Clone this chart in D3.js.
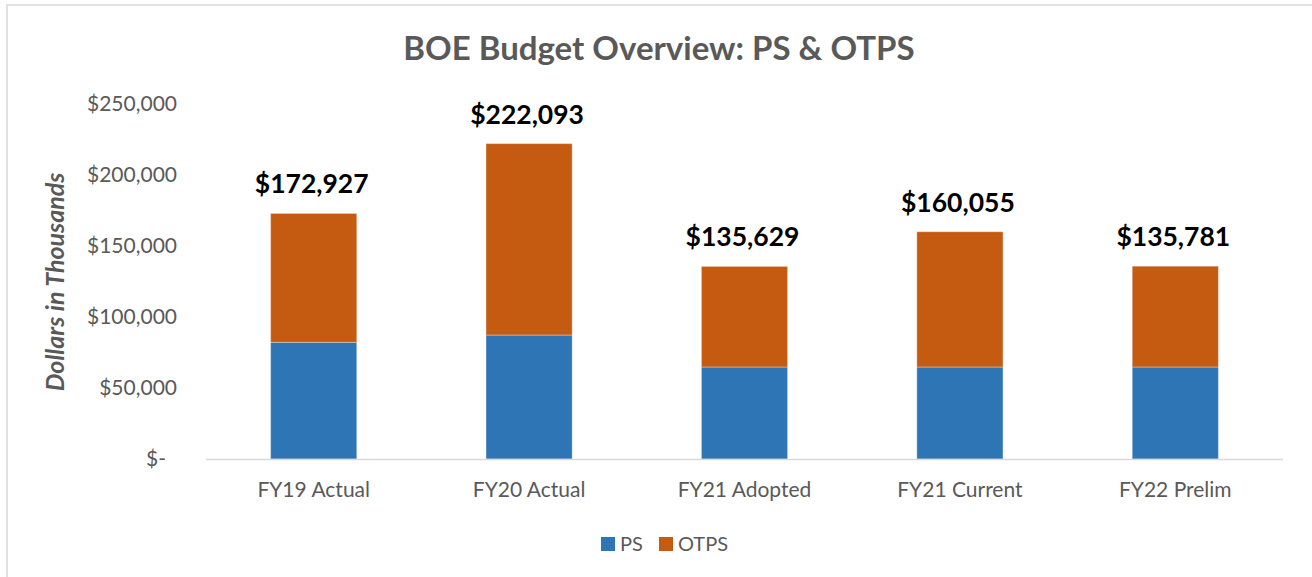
<!DOCTYPE html>
<html>
<head>
<meta charset="utf-8"/>
<title>BOE Budget Overview</title>
<script src="https://d3js.org/d3.v7.min.js"></script>
<style>
  body { margin: 0; background: #fff; }
  svg { display: block; font-family: Lato, "Open Sans", sans-serif; }
</style>
</head>
<body>
<div id="chart"></div>
<script>
  const categories = ["FY19 Actual", "FY20 Actual", "FY21 Adopted", "FY21 Current", "FY22 Prelim"];
  const totals = [172927, 222093, 135629, 160055, 135781];
  const psValues = [82200, 87300, 64800, 64800, 64800];
  const otpsValues = totals.map((t, i) => t - psValues[i]);
  const yTicks = [0, 50000, 100000, 150000, 200000, 250000];
  const seriesNames = ["PS", "OTPS"];
  const colors = ["#2E75B6", "#C55A11"];

  const width = 1312, height = 577;
  const x0 = 206, x1 = 1283, yBase = 459, yTop = 104;

  const rows = categories.map((c, i) => ({ cat: c, PS: psValues[i], OTPS: otpsValues[i], total: totals[i] }));

  const svg = d3.select("#chart").append("svg")
      .attr("width", width)
      .attr("height", height);

  // frame (runs off the right and bottom edges)
  svg.append("rect")
      .attr("x", 7).attr("y", 5)
      .attr("width", 1320).attr("height", 600)
      .attr("fill", "none")
      .attr("stroke", "#d9d9d9")
      .attr("stroke-width", 1.5);

  const x = d3.scaleBand().domain(categories).range([x0, x1]).paddingInner(0.6).paddingOuter(0.3);
  const y = d3.scaleLinear().domain([0, 250000]).range([yBase, yTop]);

  svg.append("text")
      .attr("x", 659).attr("y", 60)
      .attr("text-anchor", "middle")
      .attr("font-size", 33).attr("font-weight", "bold")
      .attr("fill", "#595959")
      .text("BOE Budget Overview: PS & OTPS");

  // y tick labels
  const fmt = d3.format("$,");
  svg.append("g").selectAll("text")
      .data(yTicks)
      .join("text")
      .attr("x", d => d === 0 ? 166 : 177)
      .attr("y", d => y(d))
      .attr("dy", "0.35em")
      .attr("text-anchor", "end")
      .attr("font-size", 21)
      .attr("fill", "#595959")
      .text(d => d === 0 ? "$-" : fmt(d));

  svg.append("text")
      .attr("transform", "translate(64,282) rotate(-90)")
      .attr("text-anchor", "middle")
      .attr("font-size", 25).attr("font-weight", "bold").attr("font-style", "italic")
      .attr("fill", "#595959")
      .text("Dollars in Thousands");

  const stack = d3.stack().keys(seriesNames)(rows);

  svg.append("g").selectAll("g")
      .data(stack)
      .join("g")
      .attr("fill", (d, i) => colors[i])
      .selectAll("rect")
      .data(d => d)
      .join("rect")
      .attr("x", d => x(d.data.cat))
      .attr("width", x.bandwidth())
      .attr("y", d => y(d[1]))
      .attr("height", d => y(d[0]) - y(d[1]))
      .attr("stroke", "#ffffff")
      .attr("stroke-opacity", 0.35)
      .attr("stroke-width", 1);

  // baseline
  svg.append("line")
      .attr("x1", x0).attr("x2", x1)
      .attr("y1", yBase + 0.5).attr("y2", yBase + 0.5)
      .attr("stroke", "#d9d9d9").attr("stroke-width", 1.5);

  // x labels
  svg.append("g").selectAll("text")
      .data(categories)
      .join("text")
      .attr("x", d => x(d) + x.bandwidth() / 2)
      .attr("y", 497)
      .attr("text-anchor", "middle")
      .attr("font-size", 21)
      .attr("fill", "#595959")
      .text(d => d);

  // totals
  svg.append("g").selectAll("text")
      .data(rows)
      .join("text")
      .attr("x", d => x(d.cat) + x.bandwidth() / 2 - 2)
      .attr("y", d => y(d.total) - 20)
      .attr("text-anchor", "middle")
      .attr("font-size", 26.5).attr("font-weight", "bold")
      .attr("fill", "#000")
      .text(d => fmt(d.total));

  // legend
  const legendX = [601, 659];
  const lg = svg.append("g").selectAll("g")
      .data(seriesNames)
      .join("g")
      .attr("transform", (d, i) => `translate(${legendX[i]},537)`);
  lg.append("rect").attr("width", 14).attr("height", 14).attr("fill", (d, i) => colors[i]);
  lg.append("text").attr("x", 19).attr("y", 7).attr("dy", "0.35em")
      .attr("font-size", 20).attr("fill", "#595959").text(d => d);
</script>
</body>
</html>
